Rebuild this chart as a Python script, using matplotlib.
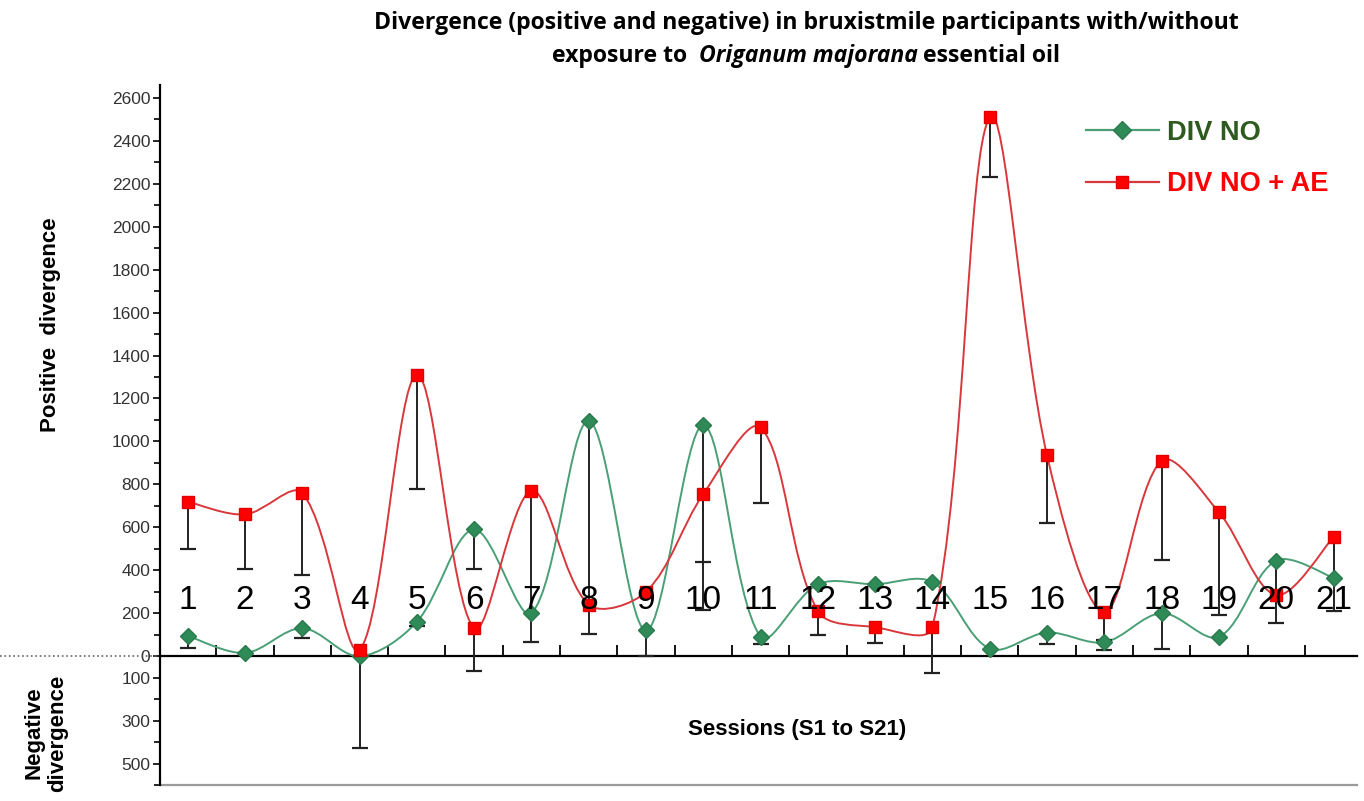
import numpy as np
import matplotlib.pyplot as plt
from matplotlib.path import Path
from matplotlib.patches import PathPatch
from matplotlib.lines import Line2D

sessions = list(range(1, 22))
div_no = [95, 15, 130, 0, 160, 590, 200, 1095, 120, 1075, 90, 335, 335, 345, 35, 110, 65, 200, 90, 445, 365]
div_no_ae = [720, 660, 760, 30, 1310, 130, 770, 240, 300, 755, 1065, 210, 135, 135, 2510, 935, 205, 910, 670, 285, 555]
# lower end of the one-sided error bars, None = no bar
div_no_low = [40, None, 85, -430, 140, 405, None, 105, 0, 440, 55, None, None, None, None, 55, 30, 35, None, 155, None]
div_no_ae_low = [500, 405, 380, None, 780, -70, 65, None, None, 215, 715, 100, 60, -80, 2230, 620, 75, 450, 190, None, 210]

pos_ticks = list(range(0, 2601, 200))
neg_ticks = [-100, -300, -500]

green_line = '#4a9f76'
green_mark = '#2e8b57'
red_line = '#d8383c'
red_mark = '#ff0000'
ARIAL = 'Liberation Sans'


def smooth_path(ax, x, y):
    # excel-like smoothed line: bezier through the points, tangents scaled by
    # neighbouring segment lengths (measured on screen) to limit overshoot
    pts = np.column_stack([x, y]).astype(float)
    scr = ax.transData.transform(pts)
    n = len(pts)
    verts = [pts[0]]
    codes = [Path.MOVETO]
    for i in range(n - 1):
        a, b = max(i - 1, 0), min(i + 2, n - 1)
        d_prev = np.hypot(*(scr[i] - scr[a]))
        d_cur = np.hypot(*(scr[i + 1] - scr[i]))
        d_next = np.hypot(*(scr[b] - scr[i + 1]))
        f1 = 2 * d_cur / (d_prev + d_cur) if d_prev > 0 else 1.0
        f2 = 2 * d_cur / (d_cur + d_next) if d_next > 0 else 1.0
        c1 = pts[i] + (pts[i + 1] - pts[a]) / 6 * f1
        c2 = pts[i + 1] - (pts[b] - pts[i]) / 6 * f2
        verts += [c1, c2, pts[i + 1]]
        codes += [Path.CURVE4] * 3
    return Path(verts, codes)


fig = plt.figure(figsize=(13.64, 8.01), dpi=100)
W, H = 1364, 801
ax = fig.add_axes([160 / W, 16 / H, 1197 / W, 700 / H])
ax.set_xlim(0.517, 21.41)
ax.set_ylim(-600, 2660)

# smoothed lines
ax.add_patch(PathPatch(smooth_path(ax, sessions, div_no), fill=False, edgecolor=green_line, lw=1.4, zorder=3))
ax.add_patch(PathPatch(smooth_path(ax, sessions, div_no_ae), fill=False, edgecolor=red_line, lw=1.4, zorder=3))

# error bars (lower side only)
for vals, lows in [(div_no, div_no_low), (div_no_ae, div_no_ae_low)]:
    xs = [s for s, l in zip(sessions, lows) if l is not None]
    top = [v for v, l in zip(vals, lows) if l is not None]
    bot = [l for l in lows if l is not None]
    ax.vlines(xs, bot, top, color='#222222', lw=1.4, zorder=4)
    ax.plot(xs, bot, ls='none', marker='_', ms=11, mew=1.6, color='#222222', zorder=4)

ax.plot(sessions, div_no, ls='none', marker='D', ms=8, color=green_mark, mec='#2a7a4c', zorder=5)
ax.plot(sessions, div_no_ae, ls='none', marker='s', ms=9, color=red_mark, mec='#e00000', zorder=5)

# session numbers inside the plot
for s in sessions:
    ax.text(s, 258, str(s), ha='center', va='center', fontsize=24, family=ARIAL, color='black', zorder=6)

# axes styling
for sp in ['top', 'right']:
    ax.spines[sp].set_visible(False)
ax.spines['bottom'].set_position(('data', 0))
ax.spines['bottom'].set_linewidth(1.6)
ax.spines['left'].set_linewidth(1.6)
ax.axhline(-600, color='#9a9a9a', lw=1.6, clip_on=False)
ax.axhline(0, xmin=-160 / 1197, xmax=0, color='#666666', lw=1.2, ls=':', clip_on=False)

ax.set_xticks(np.arange(1.5, 21, 1))
ax.set_xticklabels([])
ax.tick_params(axis='x', direction='in', length=8, width=1.3)

ax.set_yticks(neg_ticks + pos_ticks)
ax.set_yticklabels([str(abs(t)) for t in neg_ticks + pos_ticks])
ax.set_yticks([-600, -400, -200] + list(range(100, 2600, 200)), minor=True)
ax.tick_params(axis='y', which='major', direction='out', length=5, width=1.2,
               labelsize=12.5, labelcolor='#333333', pad=2)
ax.tick_params(axis='y', which='minor', direction='out', length=4, width=1.2)
for lb in ax.get_yticklabels():
    lb.set_family(ARIAL)

# labels
fig.text(51 / W, 1 - 325 / H, 'Positive  divergence', rotation=90, ha='center', va='center',
         fontsize=16, fontweight='bold', family=ARIAL)
fig.text(46 / W, 1 - 733 / H, 'Negative\ndivergence', rotation=90, ha='center', va='center',
         fontsize=16, fontweight='bold', family=ARIAL, linespacing=1.2, multialignment='center')
fig.text(797 / W, 1 - 730 / H, 'Sessions (S1 to S21)', ha='center', va='center',
         fontsize=16, fontweight='bold', family=ARIAL)

# legend
handles = [Line2D([], [], color=green_line, lw=1.6, marker='D', ms=9, mfc=green_mark, mec='#2a7a4c'),
           Line2D([], [], color=red_line, lw=1.6, marker='s', ms=9, mfc=red_mark, mec='#e00000')]
ax.legend(handles, ['DIV NO', 'DIV NO + AE'], loc='upper left',
          bbox_to_anchor=(1072 / W, 1 - 106 / H), bbox_transform=fig.transFigure,
          frameon=False, prop={'family': ARIAL, 'weight': 'bold', 'size': 19.5},
          labelcolor=['#2d5a1e', '#ff0000'], handlelength=2.7, handletextpad=0.3,
          labelspacing=0.95, borderpad=0)

# title (second line mixes bold and bold italic)
TF = 'Open Sans'
fig.text(806 / W, 1 - 23 / H, 'Divergence (positive and negative) in bruxistmile participants with/without',
         ha='center', va='center', fontsize=16.6, fontweight='bold', family=TF)
renderer = fig.canvas.get_renderer()
parts = [('exposure to  ', 'normal'), ('Origanum majorana', 'italic'), (' essential oil', 'normal')]
texts = [fig.text(0, 1 - 56 / H, p, ha='left', va='center', fontsize=16.6, fontweight='bold',
                  style=st, family=TF) for p, st in parts]
widths = [t.get_window_extent(renderer).width for t in texts]
x0 = 806 - sum(widths) / 2
for t, w in zip(texts, widths):
    t.set_x(x0 / W)
    x0 += w

fig.savefig('out.png', dpi=100)
